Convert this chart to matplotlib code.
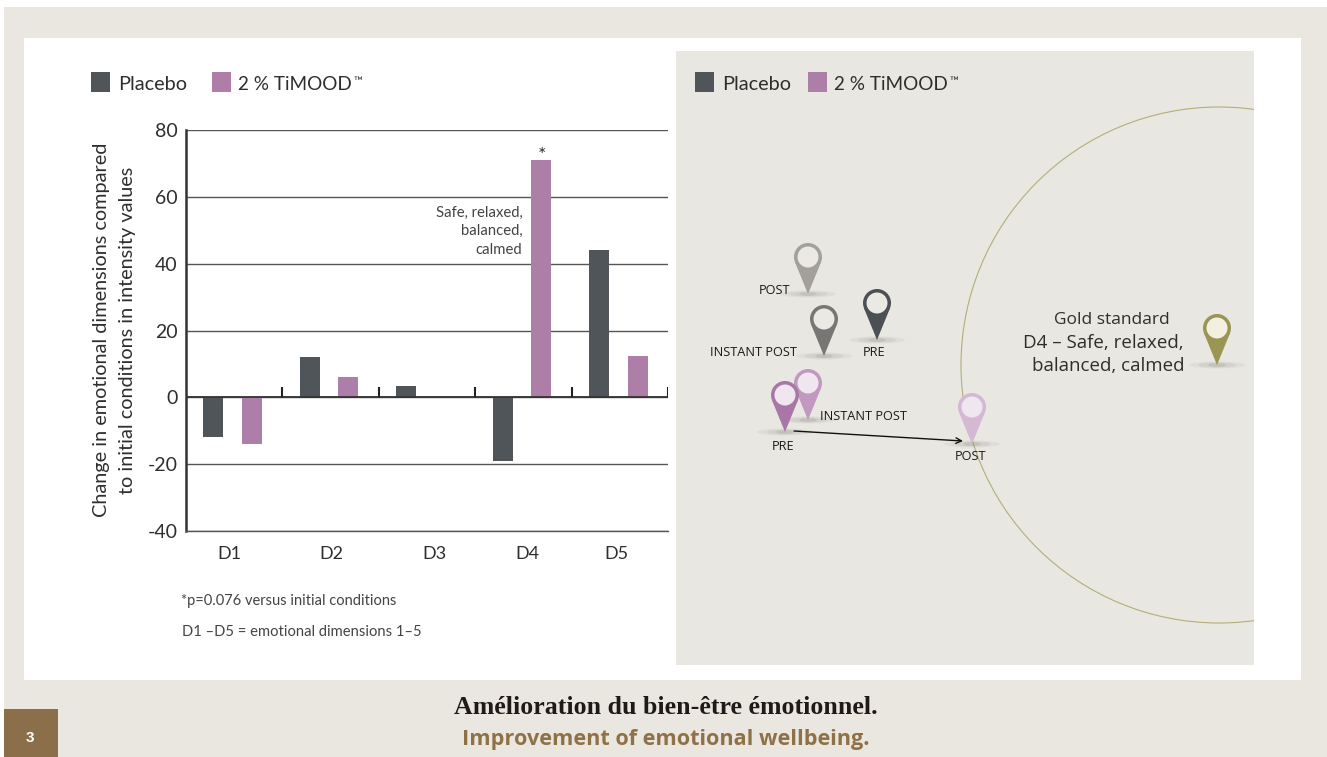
import numpy as np
import matplotlib
matplotlib.use("Agg")
import matplotlib.pyplot as plt
from matplotlib.patches import Rectangle, Circle, Polygon, Ellipse

W, H = 1327, 757

categories = ["D1", "D2", "D3", "D4", "D5"]
placebo = [-12, 12, 3.5, -19, 44]
timood = [-14, 6, 0, 71, 12.5]
y_ticks = [-40, -20, 0, 20, 40, 60, 80]
cat_label_x = [0.45, 1.51, 2.58, 3.54, 4.47]

# pins in the right panel: centre x, centre y, ring colour, inner colour
pin_x = [808, 824, 877, 808, 785, 972, 1217]
pin_y = [257, 319, 303, 383, 395, 407, 328]
pin_color = ["#a3a09b", "#777674", "#4a5054", "#c199c0", "#a877a6", "#d4b8d4", "#9a9552"]
pin_inner = ["#ebe9e4", "#ebe9e4", "#ebe9e4", "#efe6ef", "#efe6ef", "#efe6ef", "#f3f0e2"]

GREY = "#4f5558"
PURPLE = "#ad7ea8"
BG = "#eae7e0"
PANEL = "#e9e7e1"
TXT = "#2e2e2e"
SANS = ["Lato", "DejaVu Sans"]
OPEN = ["Open Sans", "DejaVu Sans"]

fig = plt.figure(figsize=(W / 100, H / 100), dpi=100, facecolor="white")

# overlay in pixel coordinates for the slide furniture
bg = fig.add_axes([0, 0, 1, 1], zorder=0)
bg.set_xlim(0, W)
bg.set_ylim(H, 0)
bg.axis("off")


def box(x0, y0, x1, y1, color):
    bg.add_patch(Rectangle((x0, y0), x1 - x0, y1 - y0, fc=color, ec="none"))


box(4, 7, W, H, BG)
box(24, 38, 1301, 680, "white")
box(676, 51, 1254, 665, PANEL)
box(4, 709, 58, H, "#8b6f4a")
bg.text(30, 738, "3", color="white", fontsize=11, fontweight="bold",
        family=["Liberation Sans"], ha="center", va="center")

# big circle, clipped by the panel
clip = Rectangle((676, 51), 578, 614, transform=bg.transData)
ring = Circle((1219, 365), 258, fc="none", ec="#b3ae78", lw=0.8)
bg.add_patch(ring)
ring.set_clip_path(clip)


def legend(x1, x2):
    box(x1, 72, x1 + 19, 92, GREY)
    box(x2, 72, x2 + 19, 92, PURPLE)
    bg.text(x1 + 27, 85, "Placebo", family=SANS, fontsize=14.3, color=TXT, va="center")
    bg.text(x2 + 26, 85, "2 % TiMOOD", family=SANS, fontsize=13.6, color=TXT, va="center")
    bg.text(x2 + 141, 81, "™", family=SANS, fontsize=8.5, color=TXT, va="center")


legend(91, 212)
legend(695, 808)


def pin(x, y, color, inner):
    r = 14
    d = 37
    for w, h, a in [(56, 7, 0.10), (38, 5, 0.14), (18, 4, 0.2)]:
        bg.add_patch(Ellipse((x, y + d), w, h, fc="#8a8a84", ec="none", alpha=a))
    a = np.arcsin(r / d)
    tx = r * np.cos(a)
    ty = r * np.sin(a)
    bg.add_patch(Polygon([(x - tx, y + ty), (x, y + d), (x + tx, y + ty)], fc=color, ec="none"))
    bg.add_patch(Circle((x, y), r, fc=color, ec="none"))
    bg.add_patch(Circle((x, y), 10.5, fc=inner, ec="none"))


for i in range(len(pin_x)):
    pin(pin_x[i], pin_y[i], pin_color[i], pin_inner[i])

for s, x, y in [("POST", 775, 290), ("INSTANT POST", 753, 353),
                ("PRE", 874, 353), ("INSTANT POST", 863, 416),
                ("PRE", 783, 446), ("POST", 970, 456)]:
    bg.text(x, y, s, family=OPEN, fontsize=9.2, color="#1a1a1a", ha="center", va="center")

bg.annotate("", xy=(963, 441), xytext=(794, 431),
            arrowprops=dict(arrowstyle="->", color="#111111", lw=1, shrinkA=0, shrinkB=0))

bg.text(1112, 320, "Gold standard", family=OPEN, fontsize=12.5, color=TXT, ha="center", va="center")
bg.text(1184, 343, "D4 – Safe, relaxed,", family=OPEN, fontsize=13.5, color=TXT, ha="right", va="center")
bg.text(1184, 366, "balanced, calmed", family=OPEN, fontsize=13.5, color=TXT, ha="right", va="center")

# footer titles
bg.text(666, 707, "Amélioration du bien-être émotionnel.", family=["Liberation Serif"],
        fontsize=18.6, fontweight="bold", color="#1f1a17", ha="center", va="center")
bg.text(666, 740, "Improvement of emotional wellbeing.", family=OPEN,
        fontsize=15.6, fontweight="bold", color="#8f7148", ha="center", va="center")

# notes under the chart
bg.text(181, 601, "*p=0.076 versus initial conditions", family=SANS, fontsize=10.55, color="#444444", va="center")
bg.text(182, 632, "D1 –D5 = emotional dimensions 1–5", family=SANS, fontsize=10.6, color="#444444", va="center")

# y axis title
bg.text(102, 330, "Change in emotional dimensions compared", family=SANS, fontsize=14.3,
        color=TXT, rotation=90, ha="center", va="center")
bg.text(127, 330, "to initial conditions in intensity values", family=SANS, fontsize=14.3,
        color=TXT, rotation=90, ha="center", va="center")

# bar chart
ax = fig.add_axes([186 / W, 1 - 531 / H, (668 - 186) / W, (531 - 130) / H], zorder=1)
ax.patch.set_alpha(0)
pos = np.arange(len(categories)) + 0.485
ax.bar(pos - 0.2, placebo, 0.207, color=GREY, zorder=3)
ax.bar(pos + 0.2, timood, 0.207, color=PURPLE, zorder=3)
ax.set_xlim(0, 5)
ax.set_ylim(-40, 80)
ax.set_yticks(y_ticks)
ax.set_yticklabels([str(v) for v in y_ticks], family=SANS, fontsize=14, color=TXT)
ax.set_xticks([])
ax.tick_params(axis="y", length=0, pad=6)
ax.grid(axis="y", color="#555555", lw=1, zorder=1)
ax.axhline(0, color="#333333", lw=1.3, zorder=4)
ax.vlines([1, 2, 3, 4, 5], 0, 3, color="#222222", lw=1.5, zorder=4)
for s in ["top", "right"]:
    ax.spines[s].set_visible(False)
ax.spines["left"].set_linewidth(1.8)
ax.spines["left"].set_color("#333333")
ax.spines["bottom"].set_linewidth(1)
ax.spines["bottom"].set_color("#555555")

for name, x in zip(categories, cat_label_x):
    ax.text(x, -47, name, family=SANS, fontsize=13, color=TXT, ha="center", va="center")

ax.text(3.69, 72.5, "*", family=SANS, fontsize=14, color=TXT, ha="center", va="center")
ax.text(3.49, 49.7, "Safe, relaxed,\nbalanced,\ncalmed", family=SANS, fontsize=10.7, color="#444444",
        ha="right", va="center", linespacing=1.42)

fig.savefig("out.png", dpi=100)
